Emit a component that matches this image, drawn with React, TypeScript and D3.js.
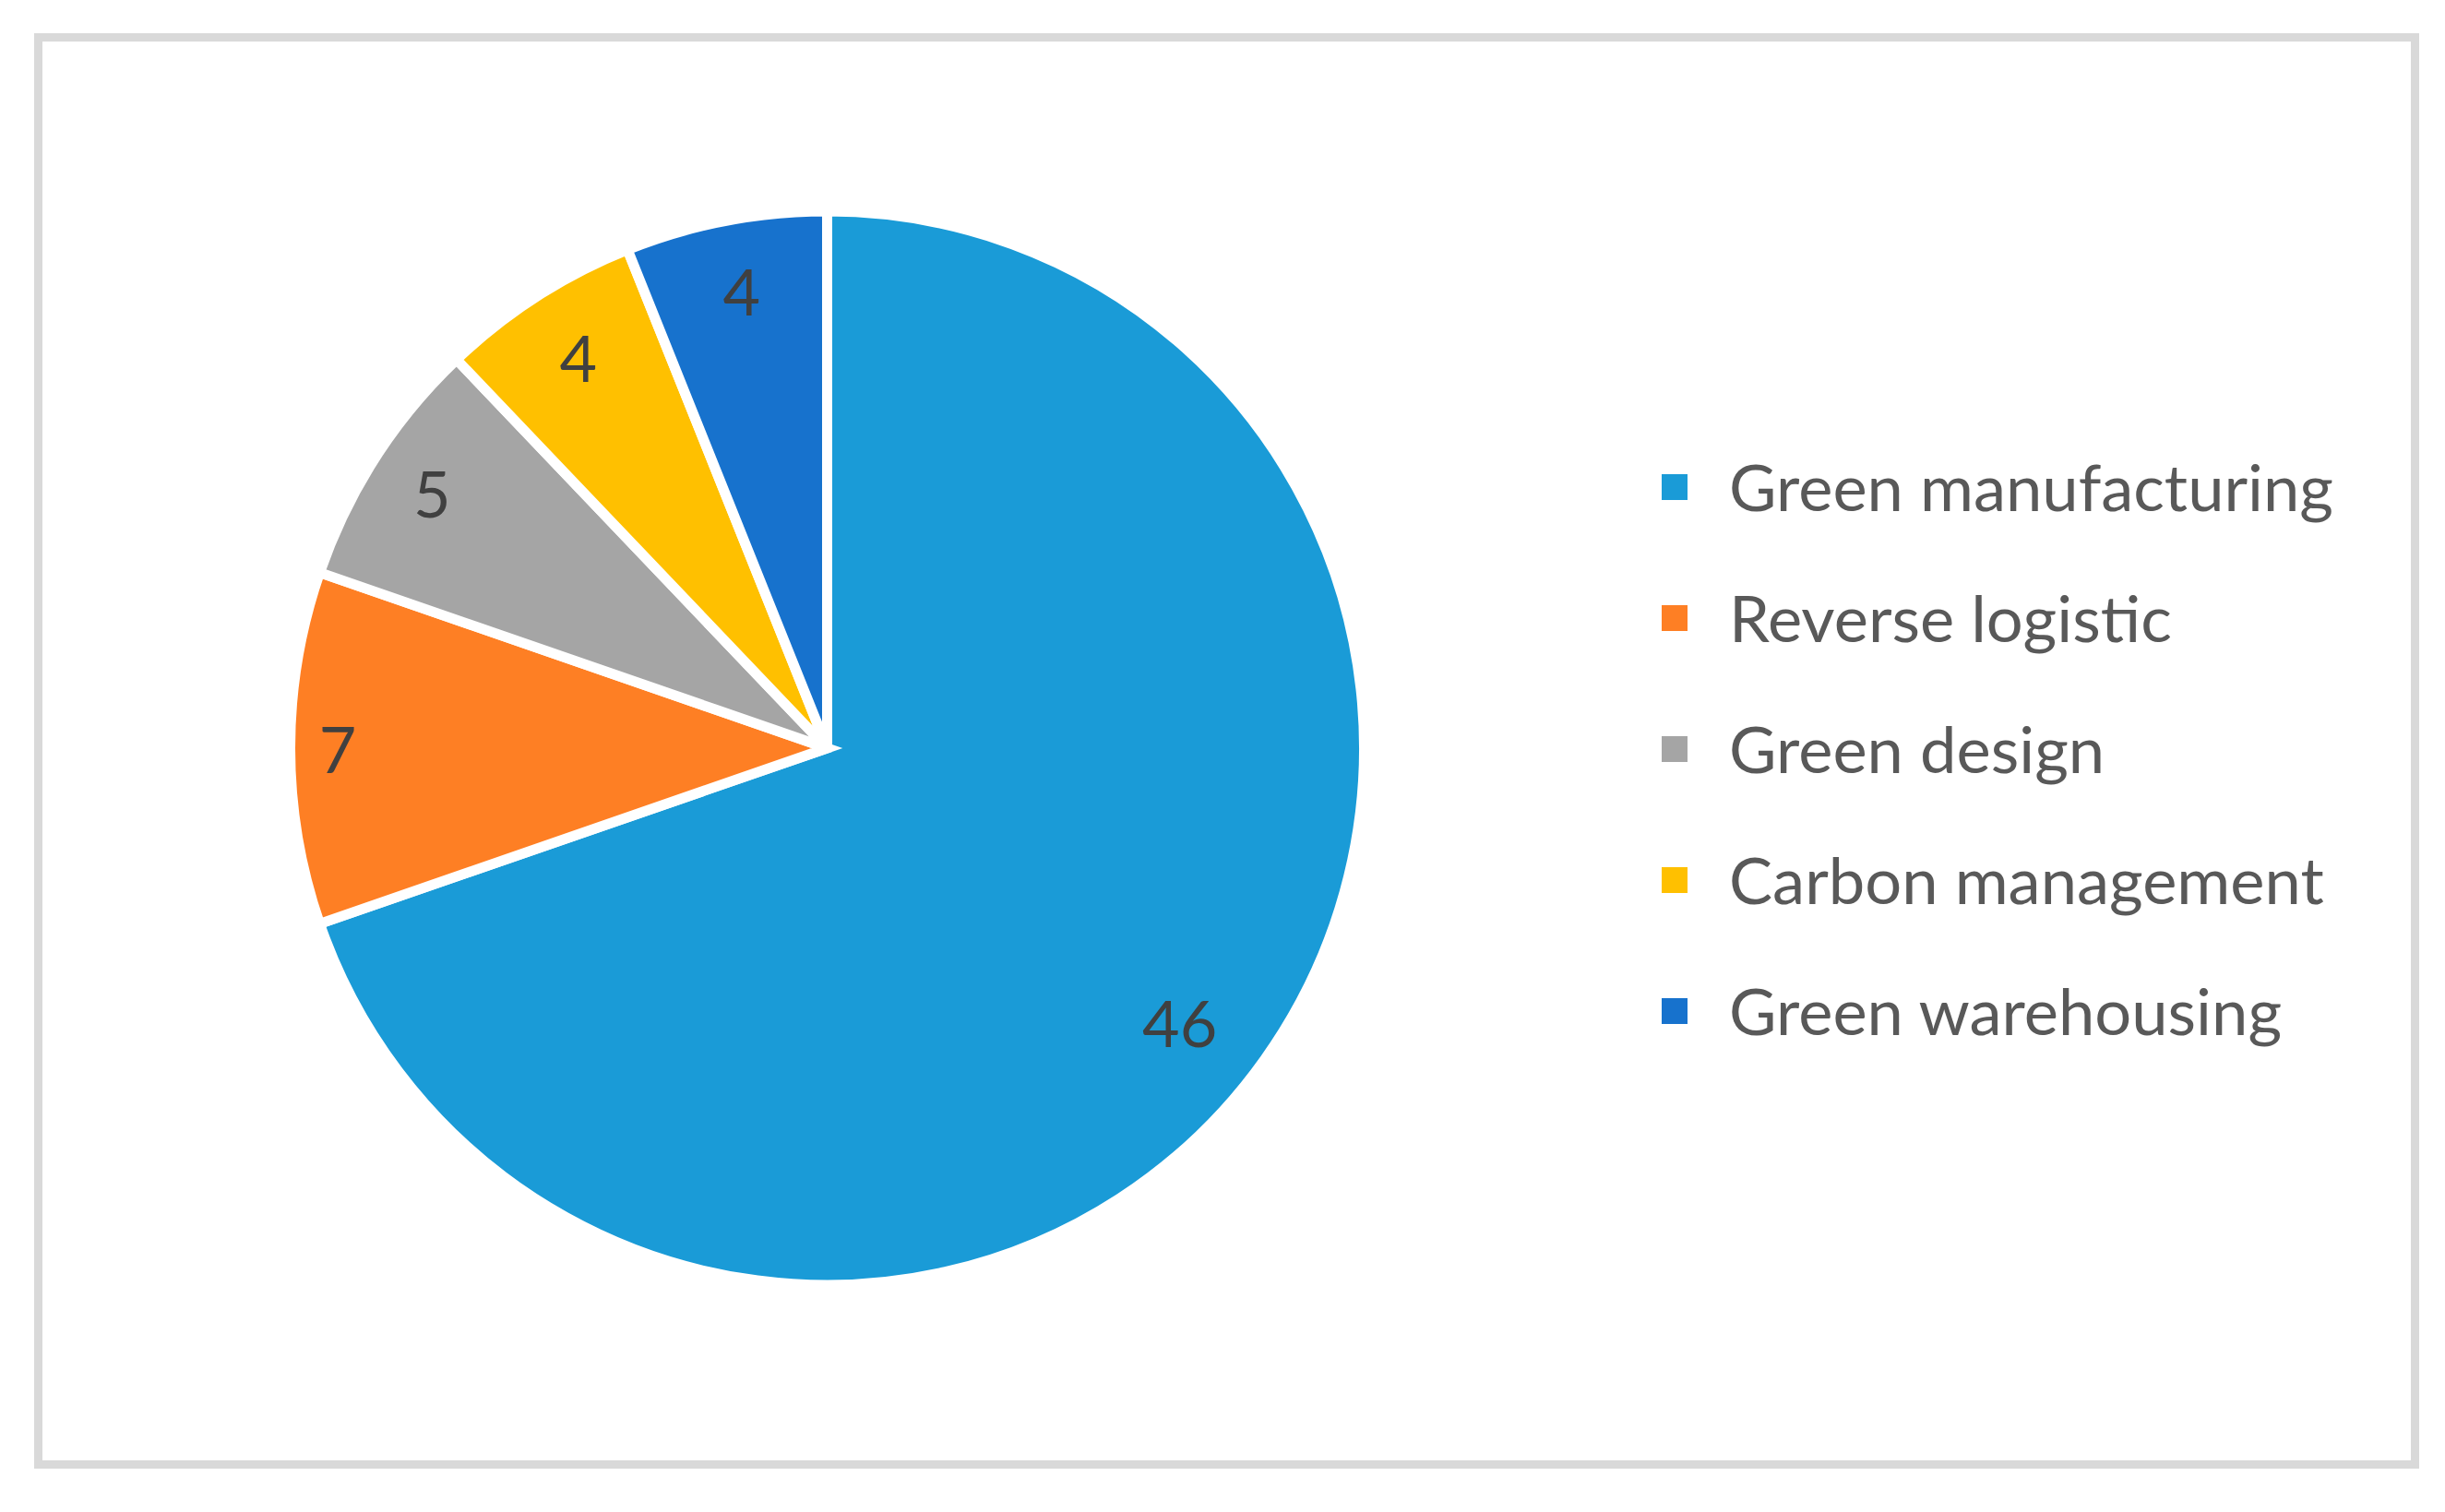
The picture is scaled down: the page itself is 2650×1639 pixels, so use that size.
import * as d3 from 'd3';
import React, { useEffect, useRef } from 'react';

// Chart data
const categories = ['Green manufacturing', 'Reverse logistic', 'Green design', 'Carbon management', 'Green warehousing'];
const counts = [46, 7, 5, 4, 4];
const colors = ['#1a9bd7', '#fe7f24', '#a5a5a5', '#ffc000', '#1772cd'];

// Size
const width = 2650;
const height = 1639;
const cx = 896.5;
const cy = 811;
const radius = 576.5; // visible radius of the pie
const borderW = 11;
const fontFamily = 'Lato, "Open Sans", sans-serif';

export default function App() {
    const svgRef = useRef(null);

    function drawPie() {
        const svg = d3.select(svgRef.current);
        svg.selectAll('*').remove();

        // frame around the chart
        svg.append('rect')
            .attr('x', 41.5).attr('y', 40.5)
            .attr('width', 2576).attr('height', 1547)
            .attr('fill', '#fff')
            .attr('stroke', '#d9d9d9')
            .attr('stroke-width', 9);

        const data = categories.map((name, i) => ({ name, value: counts[i], color: colors[i] }));

        const pie = d3.pie<any>().sort(null).value(d => d.value);
        const arcs = pie(data);
        // white border eats half its width from the fill, so push the arc out
        const path = d3.arc<any>().innerRadius(0).outerRadius(radius + borderW / 2);

        const g = svg.append('g').attr('transform', `translate(${cx},${cy})`);

        g.selectAll('path.slice')
            .data(arcs)
            .enter().append('path')
            .attr('class', 'slice')
            .attr('d', path)
            .attr('fill', d => d.data.color)
            .attr('stroke', '#fff')
            .attr('stroke-width', borderW);

        // labels placed at the inside end of each slice, like Excel does
        const maxVal = d3.max(counts);
        const fontSize = 70;
        const pad = 22;
        g.selectAll('text.lbl')
            .data(arcs)
            .enter().append('text')
            .attr('class', 'lbl')
            .attr('font-family', fontFamily)
            .attr('font-size', fontSize)
            .attr('fill', '#404040')
            .attr('text-anchor', 'middle')
            .attr('dominant-baseline', 'central')
            .text(d => d.data.value)
            .attr('transform', function(d) {
                const mid = (d.startAngle + d.endAngle) / 2;
                const dx = Math.sin(mid), dy = -Math.cos(mid);
                let t;
                if (d.data.value === maxVal) {
                    t = radius * 0.835;
                } else {
                    const hw = String(d.data.value).length * 19;
                    const hh = 46;
                    // walk inward until the box fits inside the arc
                    t = radius;
                    while (t > 0) {
                        const px = Math.abs(t * dx) + hw, py = Math.abs(t * dy) + hh;
                        if (Math.sqrt(px * px + py * py) <= radius - pad) break;
                        t -= 1;
                    }
                }
                const ang = d.data.value === maxVal ? mid + 0.045 : mid;
                return `translate(${t * Math.sin(ang) + 3},${-t * Math.cos(ang)})`;
            });

        // legend
        const rowGap = 142;
        const legend = svg.append('g').attr('transform', `translate(1801,${813 - rowGap * 2})`);
        const rows = legend.selectAll('g.row')
            .data(data)
            .enter().append('g')
            .attr('class', 'row')
            .attr('transform', (d, i) => `translate(0,${i * rowGap})`);
        rows.append('rect')
            .attr('x', 0).attr('y', -15)
            .attr('width', 28).attr('height', 28)
            .attr('fill', d => d.color);
        rows.append('text')
            .attr('x', 73).attr('y', 25)
            .attr('font-family', fontFamily)
            .attr('font-size', 70.5)
            .attr('fill', '#595959')
            .text(d => d.name);
    }

    useEffect(() => {
        drawPie();
    });

    return (
        <svg ref={svgRef} width={width} height={height}
            style={{ position: 'absolute', left: 0, top: 0, background: '#fff' }}></svg>
    );
}
